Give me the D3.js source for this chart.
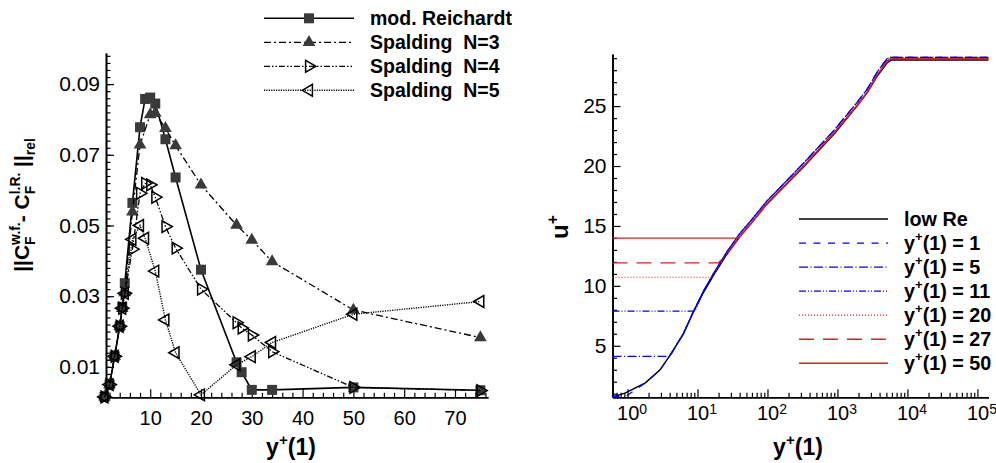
<!DOCTYPE html>
<html>
<head>
<meta charset="utf-8">
<script src="https://cdn.jsdelivr.net/npm/d3@7"></script>
<style>
  body { margin: 0; background: #fff; }
  text { font-family: "Liberation Sans", Arial, Helvetica, sans-serif; fill: #000; }
</style>
</head>
<body>
<svg id="chart" width="996" height="463"></svg>
<script>
// ---------- Left panel: relative C_F error vs. first-cell y+ ----------
const yPlusReichardt = [1, 2, 3, 4, 4.5, 5, 6.5, 8, 9, 10, 11, 13, 15, 20, 27, 28, 30, 34, 50, 75];
const errReichardt   = [0.0015, 0.005, 0.013, 0.0215, 0.027, 0.0337, 0.0564, 0.0778, 0.0858, 0.0862, 0.0845, 0.0744, 0.0636, 0.0375, 0.0113, 0.0085, 0.0035, 0.0035, 0.0042, 0.0034];

const yPlusN3 = [1, 2, 3, 4, 4.5, 5, 6.5, 8, 10, 11, 13, 15, 20, 27, 30, 34, 50, 75];
const errN3   = [0.0015, 0.005, 0.013, 0.0215, 0.0266, 0.031, 0.0539, 0.0728, 0.0814, 0.0818, 0.0775, 0.0726, 0.0615, 0.0501, 0.0459, 0.0398, 0.0261, 0.0183];

const yPlusN4 = [1, 2, 3, 4, 4.5, 5, 6.5, 8, 9, 10, 11, 13, 15, 20, 27, 28, 30, 34, 50, 75];
const errN4   = [0.0015, 0.005, 0.013, 0.0215, 0.0266, 0.0308, 0.0433, 0.0591, 0.0619, 0.0615, 0.058, 0.0497, 0.0436, 0.032, 0.0225, 0.021, 0.019, 0.0143, 0.0042, 0.0033];

const yPlusN5 = [1, 2, 3, 4, 4.5, 5, 6.5, 8, 9, 11, 13, 15, 20, 27, 30, 34, 50, 75];
const errN5   = [0.0015, 0.005, 0.013, 0.0215, 0.0266, 0.0308, 0.0461, 0.050, 0.0464, 0.0371, 0.0233, 0.014, 0.0021, 0.0106, 0.0129, 0.0169, 0.0249, 0.0285];

const leftNames   = ["mod. Reichardt", "Spalding  N=3", "Spalding  N=4", "Spalding  N=5"];
const leftXTicks  = [10, 20, 30, 40, 50, 60, 70];
const leftYTicks  = [0.01, 0.03, 0.05, 0.07, 0.09];

// ---------- Right panel: u+ profiles ----------
const lowReY = [0.61, 0.92, 1.8, 2.9, 4.0, 6.3, 8.7, 12, 17, 26, 40, 60, 97, 300, 900, 1900, 2650, 3700, 5100, 5900, 1.44e5];
const lowReU = [0.72, 1.05, 1.9, 2.97, 4.15, 6.0, 7.8, 9.4, 10.9, 12.6, 14.1, 15.3, 16.8, 19.7, 22.7, 25.0, 26.1, 27.5, 28.6, 28.85, 28.85];

const wfBlueY = [0.61, 0.92, 1.8, 2.9, 4.0, 6.3, 8.7, 12, 17, 26, 40, 60, 97, 300, 900, 1900, 2650, 3700, 5100, 5700, 1.44e5];
const wfBlueU = [0.72, 1.05, 1.9, 2.97, 4.15, 6.05, 7.85, 9.5, 11.05, 12.8, 14.35, 15.55, 17.05, 20.0, 23.0, 25.3, 26.4, 27.85, 28.95, 29.07, 29.07];

const wfRedY = [0.61, 0.92, 1.8, 2.9, 4.0, 6.3, 8.7, 12, 17, 26, 40, 60, 97, 300, 900, 1900, 2650, 3700, 5100, 5800, 1.44e5];
const wfRedU = [0.72, 1.05, 1.9, 2.97, 4.15, 6.0, 7.8, 9.4, 10.9, 12.6, 14.1, 15.3, 16.85, 19.75, 22.8, 25.05, 26.15, 27.6, 28.75, 28.96, 28.96];

const caseLabels  = ["1", "5", "11", "20", "27", "50"];
const caseFlatU   = [0.78, 4.11, 7.9, 10.72, 11.92, 13.98];
const caseFlatEnd = [0.95, 4.05, 9.2, 16.5, 20, 39];

const rightYTicks = [5, 10, 15, 20, 25];
const rightXTicks = [1, 10, 100, 1000, 10000, 100000];

// ---------- setup ----------
const svg = d3.select("#chart");
const BLUE = "#0000f0", RED = "#dc1e1e", MARK = "#3a3a3a";

// helper: bold/regular text with stacked superscripts / subscripts
function richText(parent, parts, size, anchor, weight) {
  const g = parent.append("g");
  const small = size * 0.66;
  let x = 0;
  const add = (str, fs, y, x0) => {
    const t = g.append("text").attr("x", x0).attr("y", y)
      .attr("font-size", fs).attr("font-weight", weight || "bold")
      .style("white-space", "pre").text(str);
    return t.node().getComputedTextLength();
  };
  for (const p of parts) {
    if (p.t != null) {
      x += add(p.t, size, 0, x);
    } else {
      let w = 0;
      if (p.sup) w = Math.max(w, add(p.sup, small, -size * 0.42, x));
      if (p.sub) w = Math.max(w, add(p.sub, small, size * 0.3, x));
      x += w;
    }
  }
  const shift = anchor === "middle" ? -x / 2 : anchor === "end" ? -x : 0;
  g.selectAll("text").attr("transform", `translate(${shift},0)`);
  return g;
}

function styleAxis(g, fontSize) {
  g.select(".domain").attr("stroke", "#000").attr("stroke-width", 1.6);
  g.selectAll(".tick line").attr("stroke", "#000").attr("stroke-width", 1.2);
  g.selectAll(".tick text").attr("font-size", fontSize).attr("fill", "#000")
    .style("font-family", '"Liberation Sans", Arial, Helvetica, sans-serif');
  g.attr("font-family", null);
}

// ================= LEFT PANEL =================
const xL = d3.scaleLinear().domain([1.3, 76.5]).range([106, 488]);
const yL = d3.scaleLinear().domain([0.0014, 0.0988]).range([397.3, 53]);

const left = svg.append("g");

// minor + major ticks, x
const minorXL = d3.range(2, 77, 2).filter(v => v % 10 !== 0);
styleAxis(left.append("g").attr("transform", `translate(0,${yL.range()[0]})`)
  .call(d3.axisBottom(xL).tickValues(minorXL).tickSize(-4.5).tickSizeOuter(0).tickFormat("")), 20);
styleAxis(left.append("g").attr("transform", `translate(0,${yL.range()[0]})`)
  .call(d3.axisBottom(xL).tickValues(leftXTicks).tickSize(-8).tickSizeOuter(0).tickPadding(13.5).tickFormat(d3.format("d"))), 20);

// minor + major ticks, y
const minorYL = d3.range(2, 99, 2).map(v => v / 1000);
styleAxis(left.append("g").attr("transform", `translate(${xL.range()[0]},0)`)
  .call(d3.axisLeft(yL).tickValues(minorYL).tickSize(-4.5).tickSizeOuter(0).tickFormat("")), 21);
styleAxis(left.append("g").attr("transform", `translate(${xL.range()[0]},0)`)
  .call(d3.axisLeft(yL).tickValues(leftYTicks).tickSize(-8).tickSizeOuter(0).tickPadding(6).tickFormat(d3.format(".2f"))), 21);

const lineL = d3.line().x(d => xL(d[0])).y(d => yL(d[1]));

const leftSeries = [
  { x: yPlusReichardt, y: errReichardt, dash: null, width: 1.6, sym: "square" },
  { x: yPlusN3, y: errN3, dash: "7,3,2,3", width: 1.3, sym: "tri" },
  { x: yPlusN4, y: errN4, dash: "6,2,1.5,2,1.5,2", width: 1.3, sym: "right" },
  { x: yPlusN5, y: errN5, dash: "1.2,1.2", width: 1.4, sym: "left" }
];

function drawMarker(g, sym, cx, cy) {
  if (sym === "square") {
    g.append("path").attr("d", d3.symbol(d3.symbolSquare, 100)())
      .attr("transform", `translate(${cx},${cy})`).attr("fill", MARK);
  } else if (sym === "tri") {
    g.append("path").attr("d", d3.symbol(d3.symbolTriangle, 70)())
      .attr("transform", `translate(${cx},${cy})`).attr("fill", MARK);
  } else {
    const rot = sym === "right" ? 90 : -90;
    g.append("path").attr("d", d3.symbol(d3.symbolTriangle, 60)())
      .attr("transform", `translate(${cx},${cy}) rotate(${rot})`)
      .attr("fill", "none").attr("stroke", "#000").attr("stroke-width", 1.5);
  }
}

leftSeries.forEach(s => {
  const pts = s.x.map((v, i) => [v, s.y[i]]);
  left.append("path").datum(pts).attr("d", lineL)
    .attr("fill", "none").attr("stroke", "#000").attr("stroke-width", s.width)
    .attr("stroke-dasharray", s.dash);
  const mg = left.append("g");
  pts.forEach(p => drawMarker(mg, s.sym, xL(p[0]), yL(p[1])));
});

// left legend
leftNames.forEach((name, i) => {
  const ry = 18.3 + i * 24;
  const s = leftSeries[i];
  left.append("line").attr("x1", 264).attr("x2", 354).attr("y1", ry).attr("y2", ry)
    .attr("stroke", "#000").attr("stroke-width", s.width).attr("stroke-dasharray", s.dash);
  drawMarker(left, s.sym, 309, ry);
  left.append("text").attr("x", 370).attr("y", ry + 6.5).attr("font-size", 19.5)
    .attr("font-weight", "bold").style("white-space", "pre").text(name);
});

// left axis titles
richText(left, [{ t: "y" }, { sup: "+" }, { t: "(1)" }], 23, "middle")
  .attr("transform", "translate(291,455)");
richText(left, [{ t: "||C" }, { sup: "w.f.", sub: "F" }, { t: "- C" }, { sup: "l.R.", sub: "F" }, { t: " ||" }, { sub: "rel" }], 21, "middle")
  .attr("transform", "translate(29,205) rotate(-90)");

// ================= RIGHT PANEL =================
const xR = d3.scaleLog().domain([0.61, 1.44e5]).range([612.5, 988.5]);
const yR = d3.scaleLinear().domain([0.7, 29.35]).range([397.3, 54]);
const right = svg.append("g");

const minorXR = [];
for (let e = -1; e <= 5; e++) for (let m = 2; m <= 9; m++) {
  const v = m * Math.pow(10, e);
  if (v >= 0.61 && v <= 1.44e5) minorXR.push(v);
}
styleAxis(right.append("g").attr("transform", `translate(0,${yR.range()[0]})`)
  .call(d3.axisBottom(xR).tickValues(minorXR).tickSize(-4.5).tickSizeOuter(0).tickFormat("")), 20);
const xAxR = right.append("g").attr("transform", `translate(0,${yR.range()[0]})`)
  .call(d3.axisBottom(xR).tickValues(rightXTicks).tickSize(-8).tickSizeOuter(0).tickPadding(8.5).tickFormat(() => "10"));
styleAxis(xAxR, 20);
xAxR.selectAll(".tick text").each(function (d) {
  const t = d3.select(this);
  t.attr("text-anchor", "start").attr("x", -11);
  t.append("tspan").attr("dy", "-0.45em").attr("font-size", 14).text(Math.round(Math.log10(d)));
});

const minorYR = d3.range(1, 30).filter(v => v % 5 !== 0);
styleAxis(right.append("g").attr("transform", `translate(${xR.range()[0]},0)`)
  .call(d3.axisLeft(yR).tickValues(minorYR).tickSize(-4.5).tickSizeOuter(0).tickFormat("")), 21);
styleAxis(right.append("g").attr("transform", `translate(${xR.range()[0]},0)`)
  .call(d3.axisLeft(yR).tickValues(rightYTicks).tickSize(-8).tickSizeOuter(0).tickPadding(6).tickFormat(d3.format("d"))), 21);

const lineR = d3.line().x(d => xR(d[0])).y(d => yR(d[1]));

// resolved low-Re reference
right.append("path").datum(lowReY.map((v, i) => [v, lowReU[i]])).attr("d", lineR)
  .attr("fill", "none").attr("stroke", "#000").attr("stroke-width", 1.5);

// wall-function runs: constant u+ up to the first cell, then the resolved part
const caseStyles = [
  { color: BLUE, dash: "7,7.5", width: 1.2, prof: [wfBlueY, wfBlueU] },
  { color: BLUE, dash: "9,2.5,1,2.5", width: 1.2, prof: [wfBlueY, wfBlueU] },
  { color: BLUE, dash: "7,2,1,2,1,2", width: 1.2, prof: [wfBlueY, wfBlueU] },
  { color: RED, dash: "1,2", width: 1.2, prof: [wfRedY, wfRedU] },
  { color: RED, dash: "15,9", width: 1.4, prof: [wfRedY, wfRedU] },
  { color: RED, dash: null, width: 1.4, prof: [wfRedY, wfRedU] }
];
caseLabels.forEach((lab, i) => {
  const st = caseStyles[i];
  const pts = [[xR.domain()[0], caseFlatU[i]], [caseFlatEnd[i], caseFlatU[i]]];
  st.prof[0].forEach((v, k) => { if (v > caseFlatEnd[i]) pts.push([v, st.prof[1][k]]); });
  right.append("path").datum(pts).attr("d", lineR)
    .attr("fill", "none").attr("stroke", st.color).attr("stroke-width", st.width)
    .attr("stroke-dasharray", st.dash);
});

// right legend
const legR = right.append("g");
const legItems = [{ color: "#000", dash: null, width: 1.5, parts: [{ t: "low Re" }] }]
  .concat(caseLabels.map((lab, i) => ({
    color: caseStyles[i].color, dash: caseStyles[i].dash, width: caseStyles[i].width,
    parts: [{ t: "y" }, { sup: "+" }, { t: "(1) = " + lab }]
  })));
legItems.forEach((it, i) => {
  const ry = 219 + i * 24.05;
  legR.append("line").attr("x1", 799).attr("x2", 888).attr("y1", ry).attr("y2", ry)
    .attr("stroke", it.color).attr("stroke-width", it.width).attr("stroke-dasharray", it.dash);
  richText(legR, it.parts, 19.8, "start").attr("transform", `translate(904,${ry + 6.5})`);
});

// right axis titles
richText(right, [{ t: "y" }, { sup: "+" }, { t: "(1)" }], 23, "middle")
  .attr("transform", "translate(798,455)");
richText(right, [{ t: "u" }, { sup: "+" }], 24, "middle")
  .attr("transform", "translate(568,227) rotate(-90)");
</script>
</body>
</html>
